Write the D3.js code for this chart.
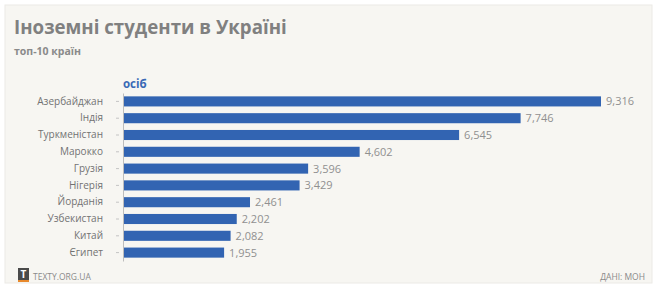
<!DOCTYPE html>
<html>
<head>
<meta charset="utf-8">
<script src="https://cdn.jsdelivr.net/npm/d3@7"></script>
<style>
    body { margin: 0; background: #ffffff; }
    svg text { font-family: 'Open Sans', sans-serif; }
</style>
</head>
<body>
<div id="chart"></div>
<script>
'use strict';

let countries = ['Азербайджан', 'Індія', 'Туркменістан', 'Марокко', 'Грузія',
    'Нігерія', 'Йорданія', 'Узбекистан', 'Китай', 'Єгипет'];
let students = [9316, 7746, 6545, 4602, 3596, 3429, 2461, 2202, 2082, 1955];

let width = 657,
    height = 287,
    margin = {
        top: 93,
        right: 56,
        bottom: 26,
        left: 123
    };

let svg = d3.select('#chart')
    .append('svg')
    .attr('width', width)
    .attr('height', height);

// background panel
svg.append('rect')
    .attr('x', 5)
    .attr('y', 5)
    .attr('width', width - 10)
    .attr('height', height - 9)
    .style('fill', '#f7f6f2')
    .style('stroke', '#ebeae6');

// title
svg.append('text')
    .attr('x', 14)
    .attr('y', 34)
    .style('font-size', '18.7px')
    .style('font-weight', 'bold')
    .style('fill', '#808080')
    .text('Іноземні студенти в Україні');

svg.append('text')
    .attr('x', 14)
    .attr('y', 55)
    .style('font-size', '10.5px')
    .style('font-weight', 'bold')
    .style('fill', '#8a8a8a')
    .text('топ-10 країн');

svg.append('text')
    .attr('x', margin.left)
    .attr('y', 88)
    .style('font-size', '11.5px')
    .style('font-weight', 'bold')
    .style('fill', '#3a6ab6')
    .text('осіб');

// scales
let x = d3.scaleLinear().domain([0, 9316]).range([0, 477]);
let y = d3.scaleBand()
    .domain(countries)
    .range([margin.top, height - margin.bottom])
    .paddingInner(0.4)
    .paddingOuter(0.2);

let g = svg.append('g')
    .attr('transform', 'translate(' + margin.left + ',0)');

// bars
g.selectAll('rect.bar')
    .data(countries)
    .enter().append('rect')
    .attr('class', 'bar')
    .attr('x', 1)
    .attr('y', function(d) { return y(d); })
    .attr('width', function(d, i) { return x(students[i]); })
    .attr('height', y.bandwidth())
    .style('fill', '#3264b2');

// values
g.selectAll('text.value')
    .data(countries)
    .enter().append('text')
    .attr('class', 'value')
    .attr('x', function(d, i) { return x(students[i]) + 6; })
    .attr('y', function(d) { return y(d) + y.bandwidth() / 2; })
    .attr('dy', '0.36em')
    .style('font-size', '11px')
    .style('fill', '#909090')
    .text(function(d, i) { return d3.format(',')(students[i]); });

// y axis
let yAxis = d3.axisLeft(y).tickSizeOuter(0).tickSizeInner(7).tickPadding(13);
let gYaxis = g.append('g')
    .attr('class', 'axis axis--y')
    .call(yAxis);

gYaxis.select('.domain').style('stroke', '#bdbdbd');
gYaxis.selectAll('.tick line')
    .attr('x1', -4)
    .style('stroke', '#c4c4c4');
gYaxis.selectAll('.tick text')
    .style('font-family', "'Open Sans', sans-serif")
    .style('font-size', '10px')
    .style('fill', '#727272');

// footer
svg.append('rect')
    .attr('x', 18)
    .attr('y', 268)
    .attr('width', 11)
    .attr('height', 13)
    .style('fill', '#4a4a4a');
svg.append('rect')
    .attr('x', 18)
    .attr('y', 280)
    .attr('width', 11)
    .attr('height', 2)
    .style('fill', '#e8892c');
svg.append('text')
    .attr('x', 23.5)
    .attr('y', 278)
    .attr('text-anchor', 'middle')
    .style('font-size', '10px')
    .style('font-weight', 'bold')
    .style('fill', '#ffffff')
    .text('T');

svg.append('text')
    .attr('x', 33)
    .attr('y', 280)
    .style('font-size', '8.5px')
    .style('fill', '#8a8a8a')
    .text('TEXTY.ORG.UA');

svg.append('text')
    .attr('x', 645)
    .attr('y', 280)
    .attr('text-anchor', 'end')
    .style('font-size', '8.5px')
    .style('fill', '#8a8a8a')
    .text('ДАНІ: МОН');
</script>
</body>
</html>
